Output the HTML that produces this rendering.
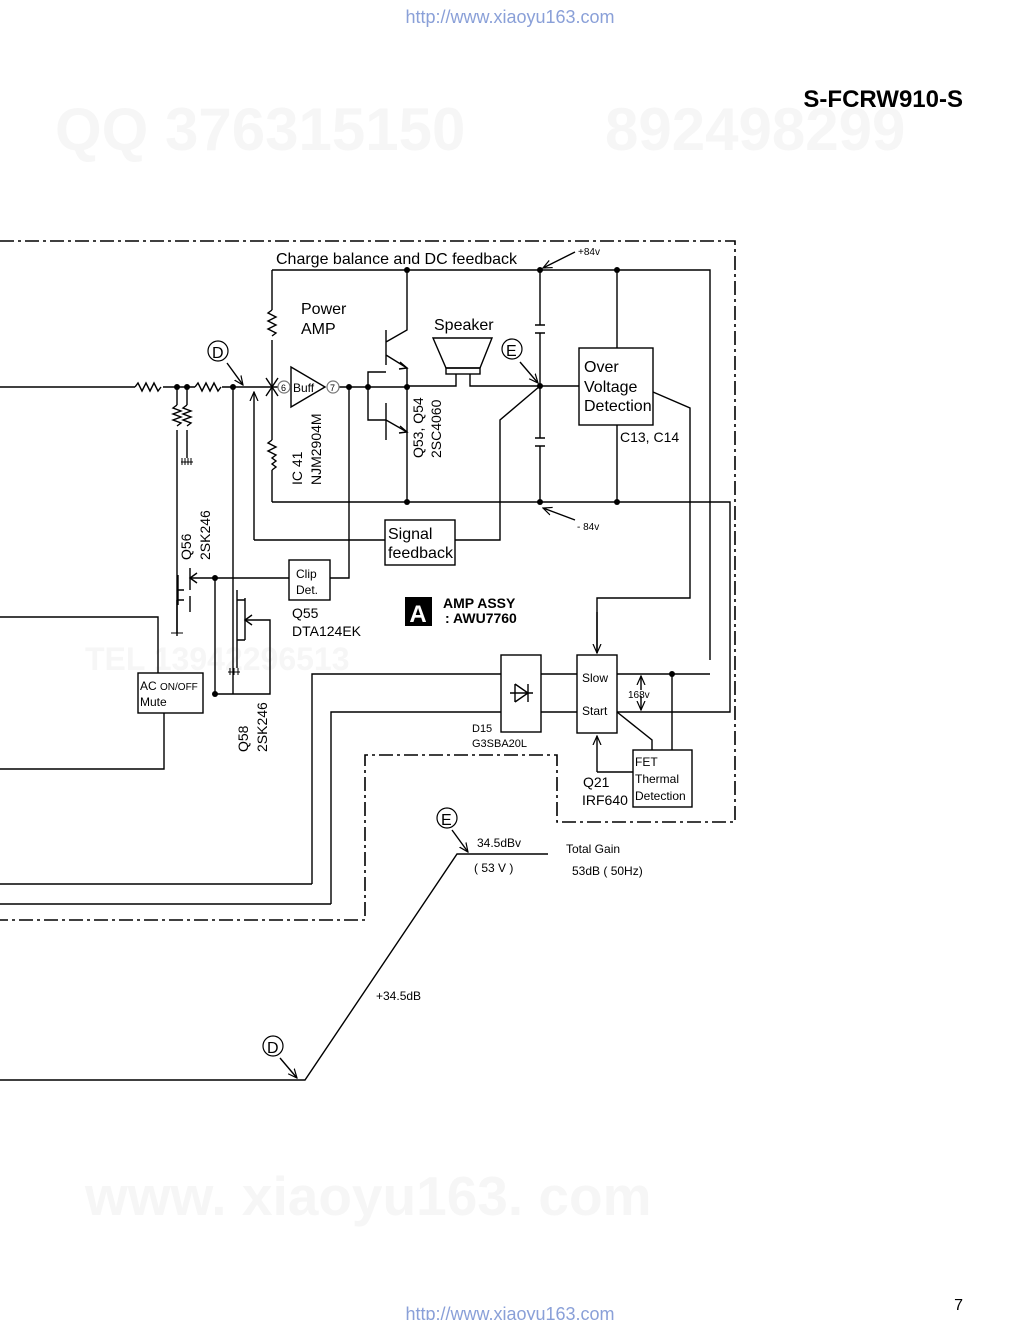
<!DOCTYPE html>
<html><head><meta charset="utf-8"><style>
body{margin:0;background:#fff;}
svg{display:block;font-family:"Liberation Sans",Arial,sans-serif;}
</style></head><body>
<svg width="1020" height="1320" viewBox="0 0 1020 1320" xmlns="http://www.w3.org/2000/svg">
<defs><marker id="ar" markerWidth="10" markerHeight="10" refX="9" refY="5" orient="auto" markerUnits="userSpaceOnUse"><path d="M0,1 L9,5 L0,9" fill="none" stroke="#000" stroke-width="1.2"/></marker></defs>
<rect width="1020" height="1320" fill="#fff"/>
<text x="510" y="23" font-size="18" fill="#8aa0d8" text-anchor="middle">http://www.xiaoyu163.com</text>
<text x="510" y="1320" font-size="18" fill="#8aa0d8" text-anchor="middle">http://www.xiaoyu163.com</text>
<g fill="#f6f6f6" font-weight="bold">
<text x="55" y="150" font-size="60">QQ 376315150</text><text x="605" y="150" font-size="60">892498299</text>
<text x="85" y="1215" font-size="55">www. xiaoyu163. com</text>
<text x="85" y="670" font-size="32">TEL 13942296513</text>
</g>
<text x="963" y="107" font-size="24" font-weight="bold" text-anchor="end">S-FCRW910-S</text>
<text x="963" y="1310" font-size="16" text-anchor="end">7</text>

<g fill="none" stroke="#000" stroke-width="1.6" stroke-dasharray="14,4,3,4">
<path d="M0,241 H735 V822 H557 V755 H365 V920 H0"/>
</g>
<g fill="none" stroke="#000" stroke-width="1.4">
<path d="M272,270 H710 V660"/>
<path d="M272,502 H730 V712 H617"/>
<path d="M272,270 V310 M272,340 V440 M272,470 V502"/>
<path d="M272,310 l-4,3 l8,4 l-8,4 l8,4 l-8,4 l8,4 l-4,3"/>
<path d="M272,440 l-4,3 l8,4 l-8,4 l8,4 l-4,3 l4,3 l-4,3 l4,3 l-4,3"/>
<path d="M0,387 H135 M163,387 H195 M222,387 H285"/>
<path d="M135,387 l3,-4 l4,8 l4,-8 l4,8 l4,-8 l4,8 l3,-4"/>
<path d="M195,387 l3,-4 l4,8 l4,-8 l4,8 l4,-8 l4,8 l3,-4"/>
<path d="M177,387 V405 M187,387 V405 M177,430 V636 M187,430 V458"/>
<path d="M177,405 l-4,3 l8,3 l-8,3 l8,3 l-8,3 l8,3 l-4,3 M187,405 l-4,3 l8,3 l-8,3 l8,3 l-8,3 l8,3 l-4,3"/>
<path d="M233,387 V694"/>
<path d="M254,540 V392" marker-end="url(#ar)"/>
<path d="M254,540 H385"/>
<path d="M266,378 L278,396 M278,378 L266,396"/>
<path d="M291,367 L325,387 L291,407 Z"/>
<path d="M338,387 H407 M349,387 V578 H330"/>
<path d="M407,270 V330 L386,342 M386,330 V365 M386,372 H368 V420 H386 M386,403 V440 M386,420 L407,432 V502 M386,355 L407,368 V387 L407,432"/>
<path d="M400,362 L407,368 L399,369 M400,426 L407,432 L399,433"/>
<path d="M433,338 H492 L480,368 H446 Z"/>
<rect x="446" y="368" width="34" height="6"/>
<path d="M456,374 V386 H407 M470,374 V386 H579"/>
<path d="M540,270 V325 M540,333 V438 M540,446 V502 M617,270 V348 M617,425 V502"/>
<path d="M535,325 H545 M535,333 H545 M535,438 H545 M535,446 H545"/>
<path d="M540,386 L500,420 V540 H455"/>
<path d="M520,362 L538,383" marker-end="url(#ar)"/>
<path d="M227,363 L243,385" marker-end="url(#ar)"/>
<path d="M575,252 L543,268" marker-end="url(#ar)"/>
<path d="M575,520 L543,508" marker-end="url(#ar)"/>
<rect x="579" y="348" width="74" height="77"/>
<path d="M653,392 L690,408 V598 H597 V653" />
<path d="M597,612 V653" marker-end="url(#ar)"/>
<rect x="385" y="520" width="70" height="45"/>
<rect x="289" y="560" width="41" height="40"/>
<path d="M190,568 V590 M190,596 V612 M184,590 H177 M184,600 H177 M190,578 H289 M178,575 V605"/>
<path d="M197,573 L190,578 L197,583"/>
<path d="M177,600 V633 M237,590 V668 M237,600 H245 M245,598 V640 M237,640 H245 M245,620 H270 V694 H215 M215,578 V694"/>
<path d="M252,615 L245,620 L252,625"/>
<rect x="138" y="673" width="65" height="40"/>
<path d="M0,617 H158 V673 M164,713 V769 H0"/>
<path d="M312,884 V674 H501 M331,904 V712 H501 M0,884 H312 M0,904 H331"/>
<rect x="501" y="655" width="40" height="77"/>
<path d="M510,693 H533 M515,684 V702 M515,684 L528,693 L515,702 M528,684 V702"/>
<rect x="577" y="655" width="40" height="78"/>
<path d="M541,674 H577 M541,712 H577"/>
<path d="M617,674 H710 M672,674 V750 M617,712 L652,740 V750"/>
<path d="M597,772 V736" marker-end="url(#ar)"/>
<path d="M597,772 H633"/>
<rect x="633" y="750" width="59" height="57"/>
<path d="M641,690 V676" marker-end="url(#ar)"/>
<path d="M641,696 V710" marker-end="url(#ar)"/>
<path d="M0,1080 H305 L457,854 H548"/>
<path d="M452,830 L468,852" marker-end="url(#ar)"/>
<path d="M280,1058 L297,1078" marker-end="url(#ar)"/>
</g>
<g stroke="#000" stroke-width="1"><path d="M181,462 h12 M182,458 v7 M185,458 v7 M188,458 v7 M191,458 v7 M171,633 h12 M228,672 h12 M230,668 v7 M234,668 v7 M238,668 v7"/></g>
<g fill="#000">
<circle cx="177" cy="387" r="3"/><circle cx="187" cy="387" r="3"/><circle cx="233" cy="387" r="3"/>
<circle cx="349" cy="387" r="3"/><circle cx="368" cy="387" r="3"/><circle cx="407" cy="387" r="3"/>
<circle cx="407" cy="270" r="3"/><circle cx="407" cy="502" r="3"/><circle cx="540" cy="270" r="3"/><circle cx="617" cy="270" r="3"/>
<circle cx="540" cy="386" r="3"/><circle cx="540" cy="502" r="3"/><circle cx="617" cy="502" r="3"/>
<circle cx="215" cy="578" r="3"/><circle cx="215" cy="694" r="3"/><circle cx="672" cy="674" r="3"/>
</g>
<g fill="#fff" stroke="#000" stroke-width="1.2">
<circle cx="218" cy="351" r="10"/><circle cx="512" cy="349" r="10"/><circle cx="447" cy="818" r="10"/><circle cx="273" cy="1046" r="10"/>
<circle cx="284" cy="387" r="6" stroke="#777"/><circle cx="333" cy="387" r="6" stroke="#777"/>
</g>
<g font-size="16">
<text x="212" y="358">D</text><text x="506" y="356">E</text><text x="441" y="825">E</text><text x="267" y="1053">D</text>
<text x="276" y="264">Charge balance and DC feedback</text>
<text x="301" y="314">Power</text><text x="301" y="334">AMP</text>
<text x="434" y="330">Speaker</text>
<text x="584" y="372">Over</text><text x="584" y="392">Voltage</text><text x="584" y="411">Detection</text>
<text x="620" y="442" font-size="14">C13, C14</text>
<text x="388" y="539">Signal</text><text x="388" y="558">feedback</text>
<text x="292" y="618" font-size="14">Q55</text>
<text x="292" y="636" font-size="14">DTA124EK</text>
<text x="583" y="787" font-size="14">Q21</text><text x="582" y="805" font-size="14">IRF640</text>
</g>
<g font-size="14">
<text transform="translate(302,485) rotate(-90)">IC 41</text>
<text transform="translate(321,485) rotate(-90)">NJM2904M</text>
<text transform="translate(423,458) rotate(-90)">Q53, Q54</text>
<text transform="translate(441,458) rotate(-90)">2SC4060</text>
<text transform="translate(191,560) rotate(-90)">Q56</text>
<text transform="translate(210,560) rotate(-90)">2SK246</text>
<text transform="translate(248,752) rotate(-90)">Q58</text>
<text transform="translate(267,752) rotate(-90)">2SK246</text>
</g>
<g font-size="12">
<text x="293" y="392">Buff</text>
<text x="281" y="391" font-size="9">6</text><text x="330" y="391" font-size="9">7</text>
<text x="296" y="578">Clip</text><text x="296" y="594">Det.</text>
<text x="140" y="690">AC <tspan font-size="10">ON/OFF</tspan></text><text x="140" y="706">Mute</text>
<text x="582" y="682">Slow</text><text x="582" y="715">Start</text>
<text x="635" y="766">FET</text><text x="635" y="783">Thermal</text><text x="635" y="800">Detection</text>
<text x="472" y="732" font-size="11">D15</text><text x="472" y="747" font-size="11">G3SBA20L</text>
<text x="578" y="255" font-size="10">+84v</text><text x="577" y="530" font-size="10">- 84v</text>
<text x="628" y="698" font-size="10">168v</text>
<text x="477" y="847">34.5dBv</text><text x="474" y="872">( 53 V )</text>
<text x="566" y="853">Total Gain</text><text x="572" y="875">53dB ( 50Hz)</text>
<text x="376" y="1000">+34.5dB</text>
</g>
<rect x="405" y="597" width="27" height="29" fill="#000"/>
<text x="418" y="622" font-size="24" font-weight="bold" fill="#fff" text-anchor="middle">A</text>
<text x="443" y="608" font-size="14" font-weight="bold">AMP ASSY</text>
<text x="445" y="623" font-size="14" font-weight="bold">: AWU7760</text>
</svg>
</body></html>
